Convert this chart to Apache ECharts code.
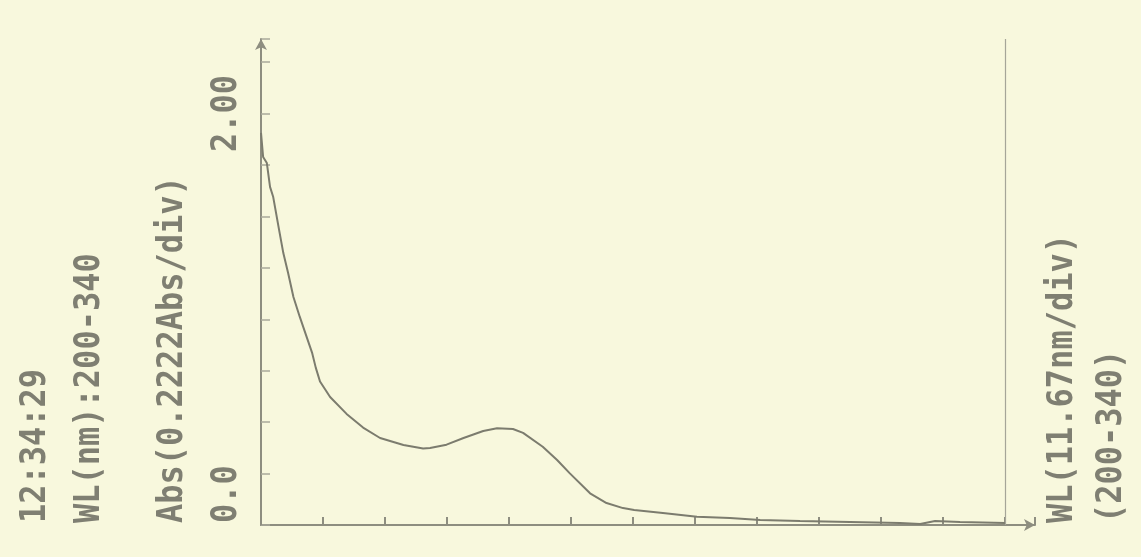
<!DOCTYPE html>
<html>
<head>
<meta charset="utf-8">
<script src="https://cdn.jsdelivr.net/npm/echarts@6/dist/echarts.min.js"></script>
<style>
  html, body { margin: 0; padding: 0; background: #f8f8dd; }
  #chart { width: 1141px; height: 557px; }
</style>
</head>
<body>
<div id="chart"></div>
<script>
// wavelength (nm) and absorbance
var wavelength = [200.0, 200.4, 201.1, 201.7, 202.3, 203.3, 204.2, 205.1, 206.1, 207.3,
    208.6, 209.6, 210.3, 211.1, 213.0, 216.1, 219.2, 222.4, 226.8, 230.5, 231.8,
    234.9, 238.1, 241.8, 244.4, 247.4, 249.3, 253.0, 255.7, 258.1, 261.9,
    265.0, 268.1, 270.2, 275.6, 282.0, 288.2, 293.9, 301.4, 310.8, 320.2,
    324.0, 326.8, 331.5, 340.0];
var absorbance = [1.694, 1.590, 1.564, 1.461, 1.417, 1.288, 1.175, 1.089, 0.985, 0.899,
    0.812, 0.745, 0.680, 0.620, 0.553, 0.480, 0.421, 0.376, 0.346, 0.331, 0.333,
    0.347, 0.376, 0.406, 0.418, 0.415, 0.398, 0.338, 0.281, 0.223, 0.137,
    0.095, 0.073, 0.065, 0.052, 0.036, 0.030, 0.022, 0.017, 0.013, 0.009,
    0.004, 0.017, 0.013, 0.009];

var leftTexts = ['12:34:29', 'WL(nm):200-340', 'Abs(0.2222Abs/div)'];
var yEndLabels = ['0.0', '2.00'];
var rightTexts = ['WL(11.67nm/div)', '(200-340)'];

var wlMin = 200, wlMax = 340;
var absDiv = 0.2222;

var points = [];
for (var i = 0; i < wavelength.length; i++) {
    points.push([wavelength[i], absorbance[i]]);
}

var inkColor = '#7c7c6e';
var axisColor = '#8e8e80';

// rotated printer text (reads bottom to top)
function vText(str, x, y, align) {
    return {
        type: 'text',
        x: x,
        y: y,
        rotation: Math.PI / 2,
        scaleY: 1.12,
        style: {
            text: str,
            fill: '#7f7f72',
            font: 'bold 32px "DejaVu Sans Mono"',
            align: align || 'left',
            verticalAlign: 'middle'
        }
    };
}

var chart = echarts.init(document.getElementById('chart'));
chart.setOption({
    backgroundColor: '#f8f8dd',
    animation: false,
    grid: { left: 261, right: 106, top: 39, bottom: 32 },
    xAxis: {
        type: 'value',
        min: wlMin,
        max: 345.6,
        interval: (wlMax - wlMin) / 12,
        axisLine: {
            show: true,
            symbol: ['none', 'arrow'],
            symbolSize: [9, 11],
            lineStyle: { color: axisColor, width: 2 }
        },
        axisTick: { show: true, inside: true, length: 8, lineStyle: { color: axisColor, width: 2 } },
        axisLabel: { show: false },
        splitLine: { show: false }
    },
    yAxis: {
        type: 'value',
        min: 0,
        max: 2.1,
        interval: absDiv,
        axisLine: {
            show: true,
            symbol: ['none', 'arrow'],
            symbolSize: [9, 11],
            lineStyle: { color: axisColor, width: 2 }
        },
        axisTick: { show: true, inside: true, length: 9, lineStyle: { color: '#a9a99a', width: 1.5 } },
        axisLabel: { show: false },
        splitLine: { show: false }
    },
    series: [{
        type: 'line',
        data: points,
        showSymbol: false,
        lineStyle: { color: inkColor, width: 2 },
        markLine: {
            silent: true,
            symbol: 'none',
            label: { show: false },
            lineStyle: { color: '#a6a698', width: 1.2, type: 'solid' },
            data: [{ xAxis: wlMax }]
        }
    }],
    graphic: [
        vText(leftTexts[0], 36, 523),
        vText(leftTexts[1], 90, 523),
        vText(leftTexts[2], 173, 523),
        vText(yEndLabels[0], 227, 523),
        vText(yEndLabels[1], 227, 75, 'right'),
        vText(rightTexts[0], 1063, 523),
        vText(rightTexts[1], 1112, 523)
    ]
});
</script>
</body>
</html>
